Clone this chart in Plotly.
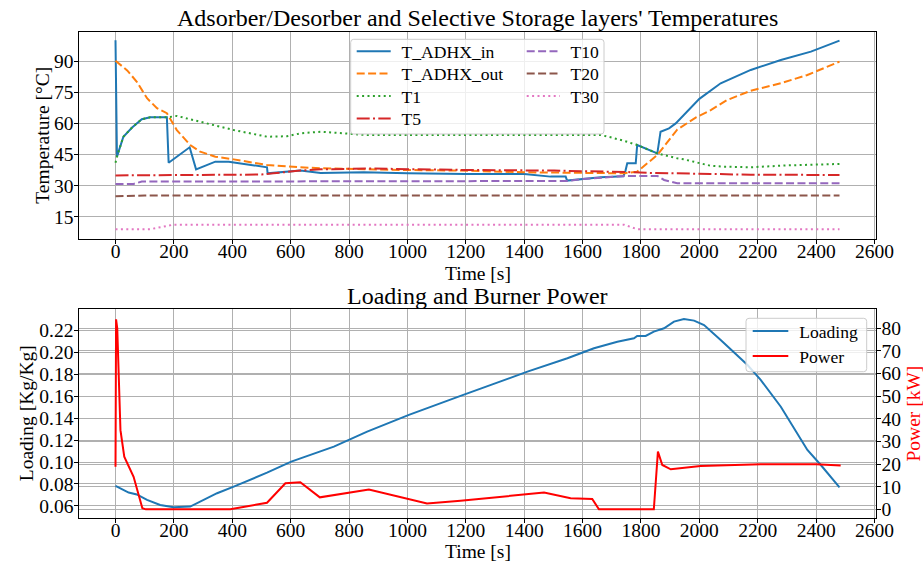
import plotly.graph_objects as go

# ---------------- data ----------------
t_in = [0, 5, 27, 56, 90, 119, 176, 182, 254, 276, 342, 388, 519, 521, 633, 703, 850,
        1000, 1200, 1400, 1490, 1542, 1547, 1600, 1662, 1740, 1747, 1753, 1782, 1787,
        1839, 1856, 1867, 1896, 1919, 1953, 2000, 2073, 2176, 2279, 2382, 2480]
T_ADHX_in = [100, 44, 53.6, 57.9, 62, 62.9, 62.9, 41.1, 48.5, 37.9, 41.6, 41.6, 38.9, 36,
             37.3, 36.2, 36.5, 36.0, 35.7, 35.7, 34.4, 34.4, 32.5, 33.3, 34.1, 34.6, 37.3,
             40.8, 40.8, 49.6, 46.4, 45.6, 56.0, 57.6, 60.0, 64.9, 71.8, 79.3, 85.7, 90.5,
             94.5, 99.8]

t_out = [0, 40, 73, 108, 142, 176, 210, 256, 290, 342, 405, 519, 633, 702, 976, 1182,
         1400, 1742, 1787, 1856, 1924, 1950, 1990, 2039, 2096, 2176, 2279, 2370, 2480]
T_ADHX_out = [90.1, 85.5, 80, 72.1, 67.3, 64.9, 56.8, 49.6, 46.4, 44, 42.7, 40, 38.9,
              38.4, 37.6, 37.3, 36.5, 36.0, 36.8, 44.8, 57.0, 59.5, 63.0, 66.4, 71.3,
              75.7, 79.3, 83.3, 89.7]

t_T1 = [0, 5, 27, 56, 90, 119, 176, 210, 290, 405, 519, 587, 633, 702, 862, 1000, 1200,
        1400, 1520, 1662, 1696, 1740, 1787, 1856, 1924, 1947, 2039, 2084, 2176, 2300, 2480]
T1 = [41.1, 44, 53.6, 57.9, 62, 62.9, 62.9, 63.6, 60.8, 56.8, 53.6, 53.8, 55.2, 56, 54.4,
      54.4, 54.4, 54.5, 54.6, 54.4, 53.3, 51.7, 49.6, 45.6, 43.2, 42.7, 39.6, 39.2, 38.9,
      39.8, 40.5]

t_T5 = [0, 500, 541, 633, 702, 862, 1195, 1503, 1753, 1821, 2039, 2176, 2480]
T5 = [35, 35.4, 36, 37.3, 37.9, 38.3, 37.6, 37.3, 36.6, 36.2, 35.7, 35.3, 35.2]

t_T10 = [0, 62, 90, 1540, 1547, 1600, 1662, 1742, 1856, 1879, 1924, 2480]
T10 = [30.9, 30.9, 32, 32, 32.3, 33.2, 34.0, 34.7, 34.7, 32.8, 31.2, 31.2]

t_T20 = [0, 100, 2480]
T20 = [25.0, 25.3, 25.3]

t_T30 = [0, 119, 199, 1742, 1787, 2480]
T30 = [9.1, 9.1, 11.3, 11.3, 9.1, 9.1]

t_load = [0, 27, 45, 73, 108, 153, 199, 256, 290, 348, 405, 519, 602, 748, 862, 1005,
          1182, 1411, 1548, 1639, 1719, 1776, 1787, 1816, 1844, 1879, 1913, 1947, 1982,
          2016, 2073, 2165, 2210, 2279, 2370, 2416, 2480]
loading = [0.0782, 0.0746, 0.0722, 0.0705, 0.0655, 0.0609, 0.0588, 0.0594, 0.0639, 0.0716,
           0.0776, 0.0903, 0.1004, 0.114, 0.1277, 0.1429, 0.1602, 0.1823, 0.1945, 0.2036,
           0.2096, 0.2127, 0.2148, 0.2148, 0.2188, 0.2218, 0.2279, 0.2303, 0.2288, 0.2248,
           0.2112, 0.1884, 0.1748, 0.1504, 0.111, 0.0973, 0.077]

t_pow = [0, 2, 6, 12, 17, 30, 62, 92, 104, 393, 519, 582, 633, 700, 868, 1067, 1182,
         1468, 1559, 1633, 1656, 1844, 1858, 1873, 1902, 2004, 2210, 2400, 2484]
power = [18.8, 84, 80, 50, 35, 23.3, 14.4, 0.5, 0, 0, 2.9, 11.5, 12, 5.3, 8.8, 2.6, 3.8,
         7.4, 4.9, 4.6, 0, 0, 25.5, 19.6, 17.7, 19.1, 19.9, 19.9, 19.4]

x_ticks = list(range(0, 2601, 200))
temp_ticks = [15, 30, 45, 60, 75, 90]
load_ticks = [0.06, 0.08, 0.10, 0.12, 0.14, 0.16, 0.18, 0.20, 0.22]
pow_ticks = [0, 10, 20, 30, 40, 50, 60, 70, 80]

# ---------------- styling / layout ----------------
W, H = 923, 564
FONT = "Liberation Serif"
GRID = "#b0b0b0"
LW = 2
DASH = "8px,3.4px"
DOT = "2px,3.4px"
DASHDOT = "13px,3.3px,2px,3.3px"
SP = "\u2004"


def fx(p):
    return p / W


def fy(p):
    return 1 - p / H


X_DOM = [fx(79.3), fx(875.7)]
TOP_DOM = [fy(239), fy(31.7)]
BOT_DOM = [fy(517.7), fy(309.3)]

fig = go.Figure()

# (name, x, y, colour, dash, axes, legend x-left px, legend row centre px, itemwidth)
series = [
    ("T_ADHX_in", t_in, T_ADHX_in, "#1f77b4", "solid", ("x", "y"), 351.7, 51.2, 34),
    ("T_ADHX_out", t_out, T_ADHX_out, "#ff7f0e", DASH, ("x", "y"), 351.7, 73.5, 34),
    ("T1", t_T1, T1, "#2ca02c", DOT, ("x", "y"), 351.7, 96.0, 34),
    ("T5", t_T5, T5, "#d62728", DASHDOT, ("x", "y"), 351.7, 118.6, 34),
    ("T10", t_T10, T10, "#9467bd", DASH, ("x", "y"), 521.7, 51.2, 33),
    ("T20", t_T20, T20, "#8c564b", DASH, ("x", "y"), 521.7, 73.5, 33),
    ("T30", t_T30, T30, "#e377c2", DOT, ("x", "y"), 521.7, 96.0, 33),
    ("Loading", t_load, loading, "#1f77b4", "solid", ("x2", "y2"), 747.7, 331.0, 35.6),
    ("Power", t_pow, power, "red", "solid", ("x2", "y3"), 747.7, 356.0, 35.6),
]

legfont = dict(family=FONT, size=17.6, color="black")
legends = {}
for i, (name, tx, ty, col, dash, (xa, ya), lx, ly, iw) in enumerate(series):
    key = "legend" if i == 0 else f"legend{i + 1}"
    fig.add_trace(go.Scatter(x=tx, y=ty, name=SP + name, mode="lines",
                             line=dict(color=col, width=LW, dash=dash),
                             xaxis=xa, yaxis=ya, legend=key))
    legends[key] = dict(x=fx(lx), y=fy(ly), xanchor="left", yanchor="middle",
                        bgcolor="rgba(0,0,0,0)", borderwidth=0, itemwidth=iw,
                        font=legfont)

tickfont = dict(family=FONT, size=19.5, color="black")
common = dict(showline=True, linecolor="black", linewidth=1, ticks="outside",
              ticklen=4, tickwidth=1, tickcolor="black", showgrid=True,
              gridcolor=GRID, gridwidth=1, zeroline=False, tickfont=tickfont,
              automargin=False)

fig.update_layout(
    width=W, height=H,
    margin=dict(l=0, r=0, t=0, b=0, pad=0, autoexpand=False),
    paper_bgcolor="white", plot_bgcolor="white",
    font=dict(family=FONT, color="black"),
    xaxis=dict(domain=X_DOM, anchor="y", range=[-124, 2604], tickvals=x_ticks,
               mirror=True, ticklabelstandoff=-9, **common),
    yaxis=dict(domain=TOP_DOM, anchor="x", range=[4.4, 104.1], tickvals=temp_ticks,
               mirror=True, ticklabelstandoff=-3, **common),
    xaxis2=dict(domain=X_DOM, anchor="y2", range=[-124, 2604], tickvals=x_ticks,
                mirror=True, ticklabelstandoff=-9, **common),
    yaxis2=dict(domain=BOT_DOM, anchor="x2", range=[0.0493, 0.2391],
                tickvals=load_ticks, tickformat=".2f", ticklabelstandoff=-3, **common),
    yaxis3=dict(anchor="x2", overlaying="y2", side="right", range=[-3.7, 88.4],
                tickvals=pow_ticks, ticklabelstandoff=-3, **common),
    showlegend=True,
    **legends,
)


def rounded_box(x0, y0, x1, y1, r=3):
    X0, X1 = fx(x0), fx(x1)
    Y0, Y1 = fy(y0), fy(y1)
    rx, ry = r / W, r / H
    return (f"M{X0 + rx},{Y0} L{X1 - rx},{Y0} Q{X1},{Y0} {X1},{Y0 - ry} "
            f"L{X1},{Y1 + ry} Q{X1},{Y1} {X1 - rx},{Y1} L{X0 + rx},{Y1} "
            f"Q{X0},{Y1} {X0},{Y1 + ry} L{X0},{Y0 - ry} Q{X0},{Y0} {X0 + rx},{Y0} Z")


for box in [(350.7, 39.3, 604, 134), (746, 318.3, 866.7, 371.7)]:
    fig.add_shape(type="path", path=rounded_box(*box), xref="paper", yref="paper",
                  fillcolor="rgba(255,255,255,0.8)", line=dict(color="#cccccc", width=1),
                  layer="above")

ann = [
    ("Adsorber/Desorber and Selective Storage layers' Temperatures", 477.5, 18, 24, 0, "black"),
    ("Time [s]", 477.5, 273, 19.5, 0, "black"),
    ("Temperature [°C]", 41.7, 135, 19.5, -90, "black"),
    ("Loading and Burner Power", 477.5, 296, 24, 0, "black"),
    ("Time [s]", 477.5, 551, 19.5, 0, "black"),
    ("Loading [Kg/Kg]", 26.7, 413.5, 19.5, -90, "black"),
    ("Power [kW]", 913, 413.5, 19.5, -90, "red"),
]
for text, x, y, size, ang, col in ann:
    fig.add_annotation(text=text, x=fx(x), y=fy(y), xref="paper", yref="paper",
                       xanchor="center", yanchor="middle", showarrow=False,
                       textangle=ang, font=dict(family=FONT, size=size, color=col))

fig.write_html("out.html", config={"displayModeBar": False},
               post_script="document.body.style.margin='0';")
